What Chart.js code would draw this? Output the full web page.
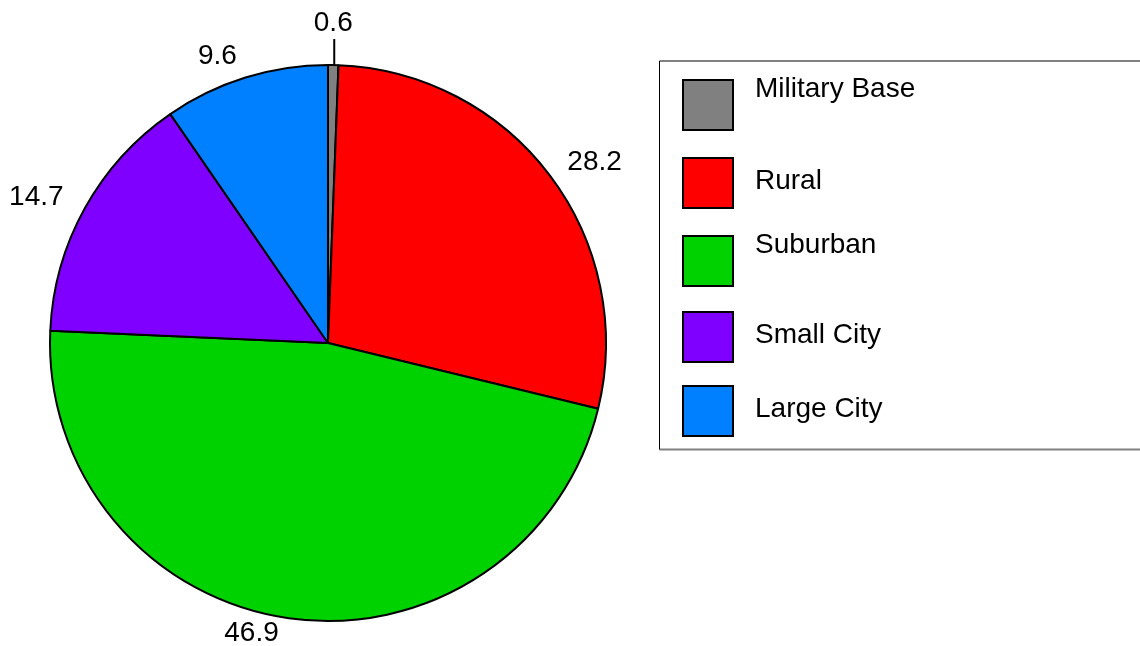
<!DOCTYPE html>
<html>
<head>
<meta charset="utf-8">
<script src="https://cdn.jsdelivr.net/npm/chart.js@4/dist/chart.umd.min.js"></script>
<style>
  html, body { margin: 0; padding: 0; background: #fff; }
  #wrap { position: relative; width: 1140px; height: 646px; }
</style>
</head>
<body>
<div id="wrap"><canvas id="c"></canvas></div>
<script>
// ---- data ----
const categories = ['Military Base', 'Rural', 'Suburban', 'Small City', 'Large City'];
const values = [0.6, 28.2, 46.9, 14.7, 9.6];
const valueLabels = ['0.6', '28.2', '46.9', '14.7', '9.6'];
const colors = ['#808080', '#ff0000', '#00d200', '#7f00ff', '#0080ff'];

// ---- layout (not data) ----
const FONT = '28px "Liberation Sans", Arial, Helvetica, sans-serif';
const legendBox = { left: 659.5, top: 61, right: 1150, bottom: 449.5 };
const legendSwatchX = 683, legendSwatchSize = 50, legendTextX = 755;
const legendSwatchTop = [80, 158, 236, 312, 386];
const legendTextBaseline = [97, 189, 253, 343, 417];

const labelPlugin = {
  id: 'sliceLabels',
  afterDatasetsDraw(chart) {
    const ctx = chart.ctx;
    const meta = chart.getDatasetMeta(0);
    ctx.save();
    ctx.font = FONT;
    ctx.fillStyle = '#000';
    meta.data.forEach((arc, i) => {
      const p = arc.getProps(['x', 'y', 'startAngle', 'endAngle', 'outerRadius'], true);
      const mid = (p.startAngle + p.endAngle) / 2;
      const cos = Math.cos(mid), sin = Math.sin(mid);
      const span = p.endAngle - p.startAngle;
      if (span < 0.08) {
        // small slice: vertical leader line and label above
        const x0 = p.x + cos * p.outerRadius + 1;
        const y0 = p.y + sin * (p.outerRadius + 1);
        ctx.strokeStyle = '#000';
        ctx.lineWidth = 2;
        ctx.beginPath();
        ctx.moveTo(x0, y0);
        ctx.lineTo(x0, y0 - 25);
        ctx.stroke();
        ctx.textAlign = 'center';
        ctx.textBaseline = 'alphabetic';
        ctx.fillText(valueLabels[i], x0 - 1, y0 - 33);
      } else if (sin > 0.9) {
        // bottom label
        const R = p.outerRadius + 22;
        ctx.textAlign = 'right';
        ctx.textBaseline = 'alphabetic';
        ctx.fillText(valueLabels[i], p.x + cos * R - 7, p.y + sin * (p.outerRadius + 23));
      } else {
        const R = p.outerRadius + 22;
        const lx = p.x + cos * R, ly = p.y + sin * R;
        ctx.textBaseline = 'middle';
        if (cos >= 0) { ctx.textAlign = 'left'; ctx.fillText(valueLabels[i], lx, ly); }
        else { ctx.textAlign = 'right'; ctx.fillText(valueLabels[i], lx - 2, ly); }
      }
    });
    ctx.restore();
  }
};

const legendPlugin = {
  id: 'boxLegend',
  afterDraw(chart) {
    const ctx = chart.ctx;
    ctx.save();
    // frame
    ctx.strokeStyle = '#808080';
    ctx.lineWidth = 2;
    ctx.beginPath();
    ctx.moveTo(legendBox.left, legendBox.top);
    ctx.lineTo(legendBox.right, legendBox.top);
    ctx.moveTo(legendBox.left, legendBox.bottom);
    ctx.lineTo(legendBox.right, legendBox.bottom);
    ctx.stroke();
    ctx.strokeStyle = '#000';
    ctx.lineWidth = 1;
    ctx.beginPath();
    ctx.moveTo(legendBox.left, legendBox.top);
    ctx.lineTo(legendBox.left, legendBox.bottom);
    ctx.stroke();

    ctx.font = FONT;
    ctx.textAlign = 'left';
    ctx.textBaseline = 'alphabetic';
    categories.forEach((name, i) => {
      const y = legendSwatchTop[i];
      ctx.fillStyle = colors[i];
      ctx.fillRect(legendSwatchX, y, legendSwatchSize, legendSwatchSize);
      ctx.strokeStyle = '#000';
      ctx.lineWidth = 2;
      ctx.strokeRect(legendSwatchX, y, legendSwatchSize, legendSwatchSize);
      ctx.fillStyle = '#000';
      ctx.fillText(name, legendTextX, legendTextBaseline[i]);
    });
    ctx.restore();
  }
};

new Chart(document.getElementById('c'), {
  type: 'pie',
  data: {
    labels: categories,
    datasets: [{
      data: values,
      backgroundColor: colors,
      borderColor: '#000',
      borderWidth: 2,
      borderAlign: 'center'
    }]
  },
  options: {
    responsive: true,
    maintainAspectRatio: false,
    devicePixelRatio: 1,
    animation: false,
    radius: 278,
    layout: { padding: { left: 49, right: 533, top: 64, bottom: 24 } },
    plugins: {
      legend: { display: false },
      tooltip: { enabled: false }
    }
  },
  plugins: [labelPlugin, legendPlugin]
});
</script>
</body>
</html>
